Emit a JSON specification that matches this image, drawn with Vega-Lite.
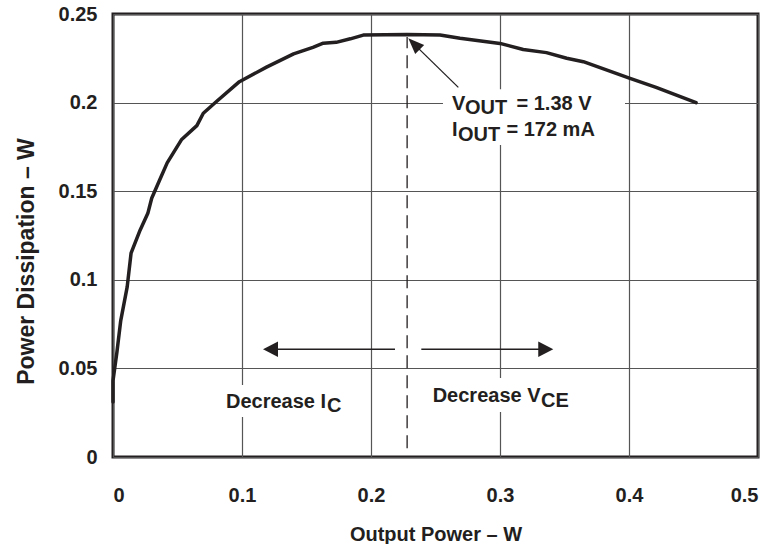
{
  "$schema": "https://vega.github.io/schema/vega-lite/v6.json",
  "width": 645,
  "height": 443,
  "autosize": {"type": "none"},
  "padding": {"left": 113, "top": 14, "right": 25, "bottom": 87},
  "background": "white",
  "config": {
    "view": {"stroke": "#231f20", "strokeWidth": 3},
    "font": "Liberation Sans",
    "axis": {
      "domain": false,
      "ticks": false,
      "tickSize": 0,
      "grid": true,
      "gridColor": "#555555",
      "gridWidth": 1.2,
      "labelFont": "Liberation Sans",
      "labelFontSize": 20,
      "labelFontWeight": "bold",
      "labelColor": "#231f20",
      "labelOverlap": false,
      "titleFont": "Liberation Sans",
      "titleFontSize": 20,
      "titleFontWeight": "bold",
      "titleColor": "#231f20"
    }
  },
  "datasets": {
    "curve": [
      {"x": 0.000, "y": 0.031},
      {"x": 0.000, "y": 0.043},
      {"x": 0.003, "y": 0.059},
      {"x": 0.006, "y": 0.077},
      {"x": 0.011, "y": 0.096},
      {"x": 0.014, "y": 0.115},
      {"x": 0.021, "y": 0.128},
      {"x": 0.027, "y": 0.1375},
      {"x": 0.030, "y": 0.146},
      {"x": 0.036, "y": 0.156},
      {"x": 0.042, "y": 0.166},
      {"x": 0.053, "y": 0.179},
      {"x": 0.065, "y": 0.187},
      {"x": 0.070, "y": 0.194},
      {"x": 0.080, "y": 0.2005},
      {"x": 0.098, "y": 0.2118},
      {"x": 0.119, "y": 0.220},
      {"x": 0.140, "y": 0.2275},
      {"x": 0.155, "y": 0.2312},
      {"x": 0.163, "y": 0.2335},
      {"x": 0.173, "y": 0.234},
      {"x": 0.184, "y": 0.236},
      {"x": 0.194, "y": 0.2381},
      {"x": 0.228, "y": 0.2385},
      {"x": 0.2535, "y": 0.2381},
      {"x": 0.269, "y": 0.2363},
      {"x": 0.300, "y": 0.2334},
      {"x": 0.318, "y": 0.2300},
      {"x": 0.336, "y": 0.2282},
      {"x": 0.3517, "y": 0.2250},
      {"x": 0.3646, "y": 0.2231},
      {"x": 0.4008, "y": 0.2137},
      {"x": 0.421, "y": 0.2086},
      {"x": 0.452, "y": 0.200}
    ],
    "masks": [
      {"x": 0.2558, "x2": 0.3969, "y": 0.1761, "y2": 0.2075},
      {"x": 0.083, "x2": 0.1837, "y": 0.0226, "y2": 0.0406},
      {"x": 0.2442, "x2": 0.3605, "y": 0.0254, "y2": 0.0446}
    ],
    "dashed": [
      {"x": 0.228, "y": 0.005, "y2": 0.237}
    ],
    "arrows": [
      {"x": 0.2186, "y": 0.0608, "x2": 0.125, "y2": 0.0608},
      {"x": 0.239, "y": 0.0608, "x2": 0.333, "y2": 0.0608},
      {"x": 0.2677, "y": 0.2086, "x2": 0.232, "y2": 0.2340}
    ],
    "heads": [
      {"x": 0.1163, "y": 0.0608, "dir": "left"},
      {"x": 0.3413, "y": 0.0608, "dir": "right"},
      {"x": 0.2289, "y": 0.2363, "dir": "callout"}
    ],
    "labels": [
      {"x": 0.0876, "y": 0.0275, "text": "Decrease I"},
      {"x": 0.1659, "y": 0.0254, "text": "C"},
      {"x": 0.2478, "y": 0.0312, "text": "Decrease V"},
      {"x": 0.3318, "y": 0.0284, "text": "CE"},
      {"x": 0.2628, "y": 0.1958, "text": "V"},
      {"x": 0.2729, "y": 0.1936, "text": "OUT"},
      {"x": 0.3128, "y": 0.1958, "text": "= 1.38 V"},
      {"x": 0.2628, "y": 0.1812, "text": "I"},
      {"x": 0.2674, "y": 0.1783, "text": "OUT"},
      {"x": 0.3050, "y": 0.1812, "text": "= 172 mA"}
    ]
  },
  "layer": [
    {
      "data": {"name": "curve"},
      "mark": {"type": "line", "color": "#231f20", "strokeWidth": 3.5, "strokeJoin": "round", "strokeCap": "round"},
      "encoding": {
        "x": {
          "field": "x", "type": "quantitative",
          "scale": {"domain": [0, 0.5], "nice": false, "zero": false},
          "axis": {
            "values": [0, 0.1, 0.2, 0.3, 0.4, 0.5],
            "format": "~g",
            "labelPadding": 28,
            "labelBaseline": "top",
            "title": "Output Power – W",
            "titleBaseline": "alphabetic",
            "titleY": 83,
            "encode": {"labels": {"update": {"dx": {"signal": "datum.value == 0 ? 3 : datum.value == 0.5 ? 11 : -3"}}}}
          }
        },
        "y": {
          "field": "y", "type": "quantitative",
          "scale": {"domain": [0, 0.25], "nice": false, "zero": false},
          "axis": {
            "values": [0, 0.05, 0.1, 0.15, 0.2, 0.25],
            "format": "~g",
            "labelPadding": 16,
            "labelBaseline": "middle",
            "title": "Power Dissipation – W",
            "titleFontSize": 23,
            "titleAngle": -90,
            "titleBaseline": "alphabetic",
            "titleX": -80,
            "titleY": 247
          }
        },
        "order": {"value": null}
      }
    },
    {
      "data": {"name": "masks"},
      "mark": {"type": "rect", "color": "white", "strokeWidth": 0},
      "encoding": {
        "x": {"field": "x", "type": "quantitative"},
        "x2": {"field": "x2"},
        "y": {"field": "y", "type": "quantitative"},
        "y2": {"field": "y2"}
      }
    },
    {
      "data": {"name": "dashed"},
      "mark": {"type": "rule", "color": "#231f20", "strokeWidth": 1.3, "strokeDash": [13, 7]},
      "encoding": {
        "x": {"field": "x", "type": "quantitative"},
        "y": {"field": "y", "type": "quantitative"},
        "y2": {"field": "y2"}
      }
    },
    {
      "data": {"name": "arrows"},
      "mark": {"type": "rule", "color": "#231f20", "strokeWidth": 1.3},
      "encoding": {
        "x": {"field": "x", "type": "quantitative"},
        "x2": {"field": "x2"},
        "y": {"field": "y", "type": "quantitative"},
        "y2": {"field": "y2"}
      }
    },
    {
      "data": {"name": "heads"},
      "transform": [{"filter": "datum.dir == 'left'"}],
      "mark": {"type": "point", "shape": "M0,0L-2,-1.04L-2,1.04Z", "size": 225, "filled": true, "color": "#231f20", "opacity": 1, "angle": 180},
      "encoding": {
        "x": {"field": "x", "type": "quantitative"},
        "y": {"field": "y", "type": "quantitative"}
      }
    },
    {
      "data": {"name": "heads"},
      "transform": [{"filter": "datum.dir == 'right'"}],
      "mark": {"type": "point", "shape": "M0,0L-2,-1.04L-2,1.04Z", "size": 225, "filled": true, "color": "#231f20", "opacity": 1, "angle": 0},
      "encoding": {
        "x": {"field": "x", "type": "quantitative"},
        "y": {"field": "y", "type": "quantitative"}
      }
    },
    {
      "data": {"name": "heads"},
      "transform": [{"filter": "datum.dir == 'callout'"}],
      "mark": {"type": "point", "shape": "M0,0L-2,-0.8L-2,0.8Z", "size": 256, "filled": true, "color": "#231f20", "opacity": 1, "angle": 224.5},
      "encoding": {
        "x": {"field": "x", "type": "quantitative"},
        "y": {"field": "y", "type": "quantitative"}
      }
    },
    {
      "data": {"name": "labels"},
      "mark": {"type": "text", "align": "left", "baseline": "alphabetic", "font": "Liberation Sans", "fontSize": 20, "fontWeight": "bold", "color": "#231f20"},
      "encoding": {
        "x": {"field": "x", "type": "quantitative"},
        "y": {"field": "y", "type": "quantitative"},
        "text": {"field": "text"}
      }
    }
  ]
}
